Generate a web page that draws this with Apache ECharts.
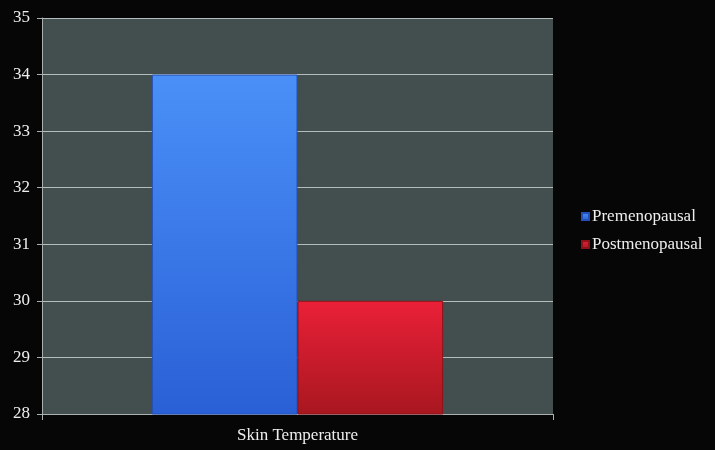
<!DOCTYPE html>
<html>
<head>
<meta charset="utf-8">
<script src="https://cdn.jsdelivr.net/npm/echarts@6/dist/echarts.min.js"></script>
<style>
  html, body { margin: 0; padding: 0; background: #060606; }
  #chart { width: 715px; height: 450px; }
</style>
</head>
<body>
<div id="chart"></div>
<script>
// data
const categories = ['Skin Temperature'];
const premenopausal = [34];
const postmenopausal = [30];
const yTicks = [28, 29, 30, 31, 32, 33, 34, 35];

const font = '"Liberation Serif", "DejaVu Serif", serif';

function grad(top, bottom) {
  return new echarts.graphic.LinearGradient(0, 0, 0, 1, [
    { offset: 0, color: top },
    { offset: 1, color: bottom }
  ]);
}

let chart = echarts.init(document.getElementById('chart'));

const option = {
  backgroundColor: '#060606',
  animation: false,
  grid: {
    left: 42,
    right: 162,
    top: 18,
    bottom: 36,
    show: true,
    backgroundColor: '#434f4f',
    borderWidth: 0
  },
  legend: {
    orient: 'vertical',
    left: 576,
    top: 203,
    itemWidth: 7,
    itemHeight: 7,
    itemGap: 11,
    icon: 'rect',
    textStyle: { color: '#eeeeee', fontFamily: font, fontSize: 17, padding: [0, 0, 0, -2] },
    data: ['Premenopausal', 'Postmenopausal']
  },
  xAxis: {
    type: 'category',
    data: categories,
    axisLine: { show: true, lineStyle: { color: '#a8b0b0', width: 1 } },
    axisTick: { show: true, length: 6, lineStyle: { color: '#a8b0b0' } },
    axisLabel: { color: '#eeeeee', fontFamily: font, fontSize: 17, margin: 13 }
  },
  yAxis: {
    type: 'value',
    min: yTicks[0],
    max: yTicks[yTicks.length - 1],
    interval: 1,
    axisLine: { show: true, lineStyle: { color: '#a8b0b0', width: 1 } },
    axisTick: { show: true, length: 5, lineStyle: { color: '#a8b0b0' } },
    axisLabel: { color: '#eeeeee', fontFamily: font, fontSize: 17, margin: 12 },
    splitLine: { show: true, lineStyle: { color: '#b4bcbc', width: 1 } }
  },
  series: [
    {
      name: 'Premenopausal',
      type: 'bar',
      data: premenopausal,
      barGap: '0%',
      barCategoryGap: '43%',
      itemStyle: {
        color: grad('#4a90f8', '#2a60d6'),
        borderColor: '#2350b8',
        borderWidth: 1
      }
    },
    {
      name: 'Postmenopausal',
      type: 'bar',
      data: postmenopausal,
      barGap: '0%',
      barCategoryGap: '43%',
      itemStyle: {
        color: grad('#ea2038', '#a8171f'),
        borderColor: '#8e1218',
        borderWidth: 1
      }
    }
  ]
};

chart.setOption(option);
</script>
</body>
</html>
